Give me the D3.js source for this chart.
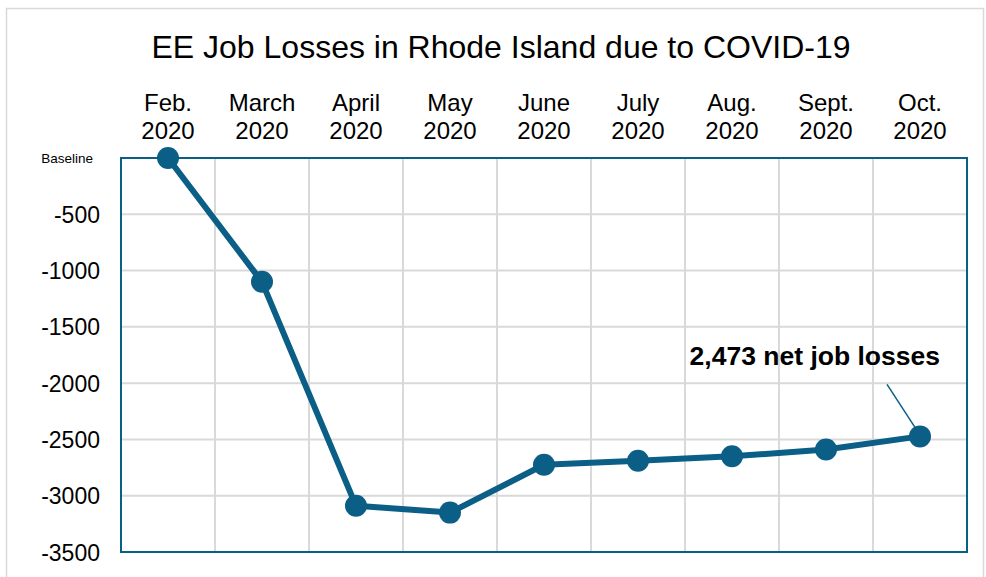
<!DOCTYPE html>
<html>
<head>
<meta charset="utf-8">
<script src="https://cdn.jsdelivr.net/npm/d3@7"></script>
<style>
  body { margin: 0; background: #fff; }
  svg { font-family: "Liberation Sans", Arial, sans-serif; }
</style>
</head>
<body>
<svg id="chart" width="986" height="577"></svg>
<script>
// data
var months = ["Feb.", "March", "April", "May", "June", "July", "Aug.", "Sept.", "Oct."];
var years = ["2020", "2020", "2020", "2020", "2020", "2020", "2020", "2020", "2020"];
var losses = [0, -1100, -3090, -3150, -2725, -2690, -2650, -2590, -2473];
var yTicks = [0, -500, -1000, -1500, -2000, -2500, -3000, -3500];
var yTickLabels = ["Baseline", "-500", "-1000", "-1500", "-2000", "-2500", "-3000", "-3500"];

var svg = d3.select("#chart");
var color = "#0b5e86";
var margin = {top: 158, right: 19, bottom: 25, left: 121},
    width = 986 - margin.left - margin.right,
    height = 577 - margin.top - margin.bottom;

// outer light frame
svg.append("rect")
  .attr("x", 6.5).attr("y", 8.5)
  .attr("width", 977).attr("height", 580)
  .attr("fill", "none")
  .attr("stroke", "#d9d9d9")
  .attr("stroke-width", 1.5);

var x = d3.scaleBand().domain(d3.range(months.length)).range([0, width]);
var y = d3.scaleLinear().domain([-3500, 0]).range([height, 0]);

var g = svg.append("g").attr("transform", "translate(" + margin.left + "," + margin.top + ")");

// gridlines
g.selectAll(".hgrid")
  .data(yTicks.slice(1, -1))
  .enter().append("line")
  .attr("x1", 0).attr("x2", width)
  .attr("y1", function(d) { return y(d); })
  .attr("y2", function(d) { return y(d); })
  .attr("stroke", "#d9d9d9").attr("stroke-width", 2);

g.selectAll(".vgrid")
  .data(d3.range(1, months.length))
  .enter().append("line")
  .attr("x1", function(d) { return x(d); })
  .attr("x2", function(d) { return x(d); })
  .attr("y1", 0).attr("y2", height)
  .attr("stroke", "#d9d9d9").attr("stroke-width", 2);

// plot frame
g.append("rect")
  .attr("width", width).attr("height", height)
  .attr("fill", "none")
  .attr("stroke", color).attr("stroke-width", 2);

// y axis labels
var yAxis = g.append("g")
  .call(d3.axisLeft(y).tickValues(yTicks).tickSize(0).tickPadding(21)
    .tickFormat(function(d, i) { return yTickLabels[i]; }));
yAxis.select(".domain").remove();
yAxis.selectAll("text")
  .attr("fill", "#000")
  .attr("dy", "0.35em")
  .style("font-size", "23px")
  .filter(function(d) { return d === 0; })
  .style("font-size", "13.5px")
  .attr("x", -28);

// x axis labels on top, two lines
var xAxis = g.append("g")
  .call(d3.axisTop(x).tickSize(0).tickFormat(""));
xAxis.select(".domain").remove();
xAxis.selectAll(".tick").each(function(d) {
  var t = d3.select(this).append("text")
    .attr("text-anchor", "middle")
    .attr("fill", "#000")
    .style("font-size", "24px");
  t.append("tspan").attr("x", 0).attr("y", -47).text(months[d]);
  t.append("tspan").attr("x", 0).attr("y", -19).text(years[d]);
});

// line
var line = d3.line()
  .x(function(d, i) { return x(i) + x.bandwidth() / 2; })
  .y(function(d) { return y(d); });

g.append("path")
  .datum(losses)
  .attr("d", line)
  .attr("fill", "none")
  .attr("stroke", color)
  .attr("stroke-width", 6)
  .attr("stroke-linejoin", "round");

g.selectAll(".dot")
  .data(losses)
  .enter().append("circle")
  .attr("cx", function(d, i) { return x(i) + x.bandwidth() / 2; })
  .attr("cy", function(d) { return y(d); })
  .attr("r", 11)
  .attr("fill", color);

// annotation
var last = losses.length - 1;
var lx = x(last) + x.bandwidth() / 2, ly = y(losses[last]);
g.append("line")
  .attr("x1", lx - 33).attr("y1", ly - 52)
  .attr("x2", lx - 5).attr("y2", ly - 9)
  .attr("stroke", color).attr("stroke-width", 1.5);
g.append("text")
  .attr("x", lx + 20).attr("y", ly - 71)
  .attr("text-anchor", "end")
  .style("font-size", "26.5px").style("font-weight", "bold")
  .text("2,473 net job losses");

// title
svg.append("text")
  .attr("x", 501).attr("y", 58)
  .attr("text-anchor", "middle")
  .style("font-size", "32px")
  .text("EE Job Losses in Rhode Island due to COVID-19");
</script>
</body>
</html>
